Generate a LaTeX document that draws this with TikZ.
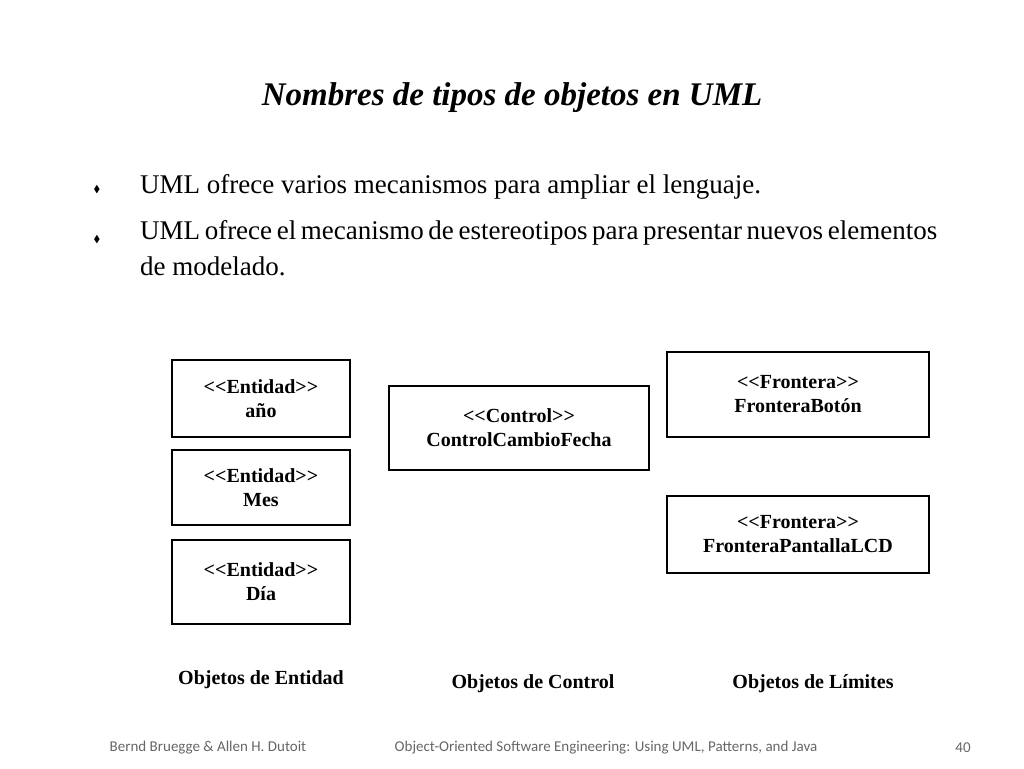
\documentclass[tikz,border=0pt]{standalone}
\usepackage{amssymb}
\usepackage{fontspec}
\setmainfont{Liberation Serif}
\newfontfamily\footfont{Carlito}
\begin{document}
\begin{tikzpicture}[x=1pt,y=-1pt,
  box/.style={draw,line width=1.2pt,inner sep=0pt,align=center,font=\fontsize{20}{24}\selectfont\bfseries},
  captxt/.style={font=\fontsize{20}{24}\selectfont\bfseries},
  bul/.style={anchor=west,inner sep=0pt,font=\fontsize{27}{36}\selectfont},
  foot/.style={font=\footfont\fontsize{15}{18}\selectfont,text=black!60}]
\useasboundingbox (0,0) rectangle (1024,768);
\node[font=\fontsize{33}{38}\selectfont\bfseries\itshape] (title) at (512,98) {Nombres de tipos de objetos en UML};
\node[font=\fontsize{10}{12}\selectfont] (d1) at (97,190) {$\blacklozenge$};
\node[font=\fontsize{10}{12}\selectfont] (d2) at (97,240) {$\blacklozenge$};
\node[bul] (b1) at (140,187) {UML ofrece varios mecanismos para ampliar el lenguaje.};
\node[bul,anchor=north west,text width=797pt,align=justify] (b2) at (140,220) {UML ofrece el mecanismo de estereotipos para presentar nuevos elementos de modelado.};
\node[box,minimum width=178pt,minimum height=77pt] (e1) at (261,398.5) {<{}<Entidad>{}>\\año};
\node[box,minimum width=178pt,minimum height=75pt] (e2) at (261,487.5) {<{}<Entidad>{}>\\Mes};
\node[box,minimum width=178pt,minimum height=84pt] (e3) at (261,582) {<{}<Entidad>{}>\\Día};
\node[box,minimum width=260pt,minimum height=84pt] (c1) at (519,428) {<{}<Control>{}>\\ControlCambioFecha};
\node[box,minimum width=262pt,minimum height=85pt] (f1) at (798,394.5) {<{}<Frontera>{}>\\FronteraBotón};
\node[box,minimum width=262pt,minimum height=77pt] (f2) at (798,534.5) {<{}<Frontera>{}>\\FronteraPantallaLCD};
\node[captxt] (l1) at (261,680) {Objetos de Entidad};
\node[captxt] (l2) at (533,684) {Objetos de Control};
\node[captxt] (l3) at (813,684) {Objetos de Límites};
\node[foot] (f_a) at (208,748) {Bernd Bruegge \& Allen H. Dutoit};
\node[foot] (f_b) at (606,748) {Object-Oriented Software Engineering: Using UML, Patterns, and Java};
\node[foot] (f_c) at (963,748) {40};
\end{tikzpicture}
\end{document}
